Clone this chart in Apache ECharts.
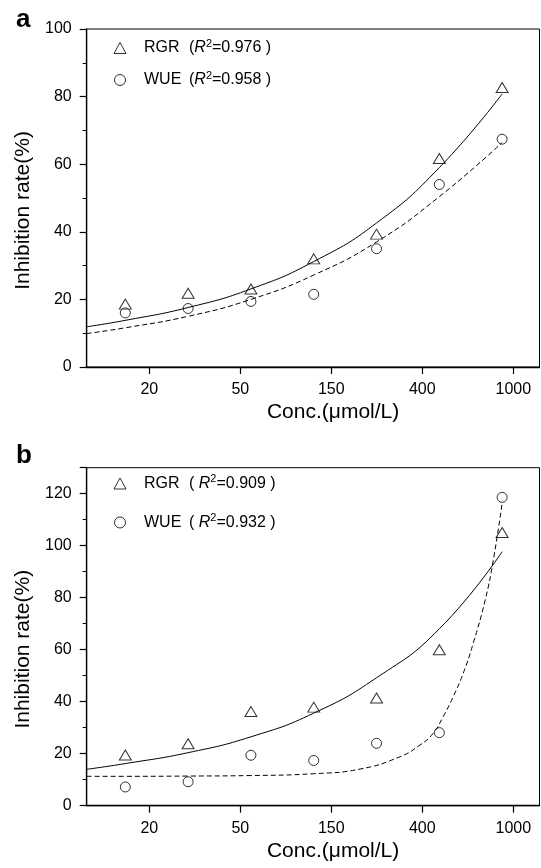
<!DOCTYPE html>
<html>
<head>
<meta charset="utf-8">
<script src="https://cdn.jsdelivr.net/npm/echarts@6/dist/echarts.min.js"></script>
<style>
html,body{margin:0;padding:0;background:#fff;}
#chart{width:541px;height:868px;}
</style>
</head>
<body>
<div id="chart"></div>
<script>
// x positions of the seven concentrations (equally spaced on the drawn axis)
const xPos = [1, 2, 3, 4, 5, 6, 7];
// tick positions and their labels on the same scale
const tickPos = [1.382, 2.831, 4.280, 5.729, 7.178];
const tickLabels = ['20', '50', '150', '400', '1000'];

// Panel a observed values
const aRGR = [18.6, 21.8, 23.1, 32.0, 39.3, 61.7, 82.7];
const aWUE = [16.0, 17.3, 19.4, 21.5, 35.0, 54.0, 67.4];
// Panel a fitted curves
const aFitX = [0.385, 1, 2, 3, 4, 5, 6, 7];
const aFitRGR = [11.9, 13.8, 17.6, 23.1, 31.2, 42.6, 59.0, 80.8];
const aFitWUE = [9.9, 11.6, 15.0, 20.0, 27.2, 37.0, 50.4, 66.4];

// Panel b observed values
const bRGR = [19.5, 23.8, 36.2, 37.9, 41.4, 60.0, 105.1];
const bWUE = [7.2, 9.2, 19.4, 17.4, 24.0, 28.1, 118.6];
// Panel b fitted curves
const bFitRGRX = [0.385, 1, 2, 3, 4, 5, 6, 7];
const bFitRGR = [14.0, 16.2, 20.4, 26.5, 35.6, 49.2, 68.0, 97.7];
const bFitWUEX = [0.385, 1, 2, 3, 4, 4.74, 5.37, 5.69, 5.9, 6.06, 6.22, 6.38, 6.54, 6.73, 6.86, 7];
const bFitWUE = [11.3, 11.3, 11.4, 11.6, 12.3, 14.1, 18.8, 23.3, 27.8, 34.2, 41.9, 50.9, 62.5, 79.1, 94.5, 116.4];

const R2a = ['0.976', '0.958'];
const R2b = ['0.909', '0.932'];

const FONT = '"Liberation Sans", Arial, sans-serif';
const zip = (xs, ys) => xs.map((x, i) => [x, ys[i]]);

function xAxisCfg(gi) {
  return {
    gridIndex: gi, type: 'value', min: 0.385, max: 7.595,
    axisLine: { show: true, onZero: false, lineStyle: { color: '#000', width: 1.3 } },
    axisTick: { show: true, inside: false, length: 7, customValues: tickPos, lineStyle: { color: '#000', width: 1.2 } },
    axisLabel: {
      customValues: tickPos, margin: 15, fontSize: 16, color: '#000', fontFamily: FONT,
      formatter: function (v) {
        let best = 0;
        tickPos.forEach((t, i) => { if (Math.abs(t - v) < Math.abs(tickPos[best] - v)) best = i; });
        return tickLabels[best];
      }
    },
    splitLine: { show: false },
    name: 'Conc.(\u03bcmol/L)', nameLocation: 'middle', nameGap: 35,
    nameTextStyle: { fontSize: 21, color: '#000', fontFamily: FONT, padding: [0, 0, 0, 40] }
  };
}
function yAxisCfg(gi, max, showMax) {
  return {
    gridIndex: gi, type: 'value', min: 0, max: max, interval: 20,
    axisLine: { show: true, lineStyle: { color: '#000', width: 1.3 } },
    axisTick: { show: true, inside: false, length: 7, lineStyle: { color: '#000', width: 1.2 } },
    minorTick: { show: true, splitNumber: 2, length: 4, lineStyle: { color: '#000', width: 1 } },
    axisLabel: { margin: 15, fontSize: 16, color: '#000', fontFamily: FONT, showMaxLabel: showMax },
    splitLine: { show: false }, minorSplitLine: { show: false },
    name: 'Inhibition rate(%)', nameLocation: 'middle', nameGap: 53,
    nameTextStyle: { fontSize: 21, color: '#000', fontFamily: FONT, padding: [0, 25, 0, 0] }
  };
}
const markerStyle = { color: 'rgba(255,255,255,0)', borderColor: '#000', borderWidth: 1 };
function panelSeries(gi, rgr, wue, fitRX, fitR, fitWX, fitW) {
  return [
    { name: 'fitR' + gi, type: 'line', xAxisIndex: gi, yAxisIndex: gi, data: zip(fitRX, fitR),
      smooth: 0.5, showSymbol: false, symbol: 'none', z: 2,
      lineStyle: { color: '#000', width: 1 } },
    { name: 'fitW' + gi, type: 'line', xAxisIndex: gi, yAxisIndex: gi, data: zip(fitWX, fitW),
      smooth: 0.5, showSymbol: false, symbol: 'none', z: 2,
      lineStyle: { color: '#000', width: 1, type: [5, 3] } },
    { name: 'RGR', type: 'scatter', xAxisIndex: gi, yAxisIndex: gi, data: zip(xPos, rgr),
      symbol: 'triangle', symbolSize: [12, 10], itemStyle: markerStyle, z: 3 },
    { name: 'WUE', type: 'scatter', xAxisIndex: gi, yAxisIndex: gi, data: zip(xPos, wue),
      symbol: 'circle', symbolSize: 10, itemStyle: markerStyle, z: 3 }
  ];
}
function legendCfg(top, gap, r2, sp) {
  return {
    orient: 'vertical', left: 113.5, top: top, padding: 0, itemGap: gap,
    itemWidth: 12, itemHeight: 11, data: ['RGR', 'WUE'],
    itemStyle: { color: 'rgba(255,255,255,0)', borderColor: '#000', borderWidth: 1 },
    selectedMode: false,
    formatter: function (name) {
      const v = name === 'RGR' ? r2[0] : r2[1];
      return '{n|' + name + '}{p|(' + sp + '}{i|R}{s|2}{p|=' + v + ' )}';
    },
    textStyle: {
      fontFamily: FONT, color: '#000', fontSize: 16,
      rich: {
        n: { fontSize: 16, fontFamily: FONT, width: 45, padding: [0, 0, 0, 13], lineHeight: 20 },
        p: { fontSize: 16, fontFamily: FONT, lineHeight: 20 },
        i: { fontSize: 16, fontFamily: FONT, fontStyle: 'italic', lineHeight: 20 },
        s: { fontSize: 11, fontFamily: FONT, verticalAlign: 'top', lineHeight: 12 }
      }
    }
  };
}

const chart = echarts.init(document.getElementById('chart'), null, { renderer: 'canvas' });
chart.setOption({
  backgroundColor: '#fff',
  animation: false,
  textStyle: { fontFamily: FONT, color: '#000' },
  title: [
    { text: 'a', left: 11, top: 2, textStyle: { fontSize: 26, fontWeight: 'bold', color: '#000', fontFamily: FONT } },
    { text: 'b', left: 11, top: 438, textStyle: { fontSize: 26, fontWeight: 'bold', color: '#000', fontFamily: FONT } }
  ],
  grid: [
    { left: 86.7, top: 29, width: 452.8, height: 338, show: true, borderColor: '#000', borderWidth: 1, backgroundColor: 'transparent' },
    { left: 86.7, top: 467.7, width: 452.8, height: 338, show: true, borderColor: '#000', borderWidth: 1, backgroundColor: 'transparent' }
  ],
  legend: [legendCfg(38, 14, R2a, ''), legendCfg(473.5, 21, R2b, ' ')],
  xAxis: [xAxisCfg(0), xAxisCfg(1)],
  yAxis: [yAxisCfg(0, 100, true), yAxisCfg(1, 130, false)],
  series: [].concat(
    panelSeries(0, aRGR, aWUE, aFitX, aFitRGR, aFitX, aFitWUE),
    panelSeries(1, bRGR, bWUE, bFitRGRX, bFitRGR, bFitWUEX, bFitWUE)
  )
});
</script>
</body>
</html>
